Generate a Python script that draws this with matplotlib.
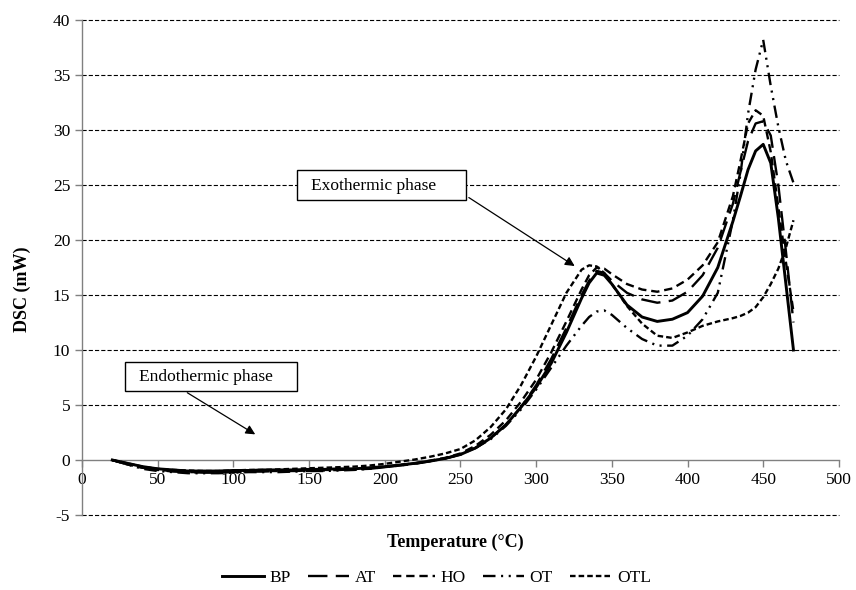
import matplotlib
matplotlib.use("Agg")
import matplotlib.pyplot as plt
from matplotlib.patches import Rectangle

# Temperature grid (°C)
temps = [20, 30, 40, 50, 60, 70, 80, 90, 100, 110, 120, 130, 140, 150, 160, 170,
         180, 190, 200, 210, 220, 230, 240, 250, 260, 270, 280, 290, 300, 310,
         320, 330, 335, 340, 345, 350, 360, 370, 380, 390, 400, 410, 420, 430,
         435, 440, 445, 450, 455, 460, 465, 470]

bp = [0, -0.3, -0.6, -0.8, -0.9, -1.0, -1.0, -1.0, -0.95, -0.95, -0.9, -0.9, -0.9, -0.85, -0.85, -0.8,
      -0.8, -0.7, -0.6, -0.45, -0.3, -0.1, 0.15, 0.5, 1.1, 2.0, 3.2, 4.8, 6.6, 8.8,
      11.6, 14.7, 16.1, 17.0, 16.8, 16.0, 14.1, 13.0, 12.6, 12.8, 13.4, 14.9, 17.5, 21.7,
      24.0, 26.4, 28.1, 28.7, 27.0, 22.0, 16.0, 10.0]

at = [0, -0.4, -0.7, -0.9, -1.05, -1.1, -1.15, -1.15, -1.1, -1.05, -1.05, -1.0, -1.0, -1.0, -0.95, -0.9,
      -0.85, -0.8, -0.65, -0.5, -0.35, -0.1, 0.15, 0.5, 1.1, 2.0, 3.2, 4.8, 6.8, 9.2,
      12.0, 15.0, 16.3, 17.2, 17.0, 16.3, 15.2, 14.6, 14.3, 14.5, 15.3, 16.8, 19.3, 23.3,
      26.2, 29.0, 30.6, 30.8, 29.5, 25.0, 19.0, 12.5]

ho = [0, -0.4, -0.7, -0.9, -1.0, -1.1, -1.1, -1.1, -1.05, -1.0, -1.0, -1.0, -1.0, -0.95, -0.9, -0.9,
      -0.85, -0.75, -0.6, -0.45, -0.3, -0.05, 0.2, 0.6, 1.3, 2.3, 3.6, 5.3, 7.3, 9.8,
      12.6, 15.5, 16.8, 17.5, 17.4, 16.9, 16.0, 15.5, 15.3, 15.6, 16.4, 17.7, 19.8, 24.0,
      27.2, 30.6, 31.8, 31.3, 28.0, 23.0, 18.0, 13.5]

ot = [0, -0.4, -0.8, -1.0, -1.1, -1.2, -1.2, -1.2, -1.15, -1.1, -1.1, -1.1, -1.05, -1.0, -1.0, -0.95,
      -0.9, -0.8, -0.65, -0.5, -0.3, -0.1, 0.15, 0.5, 1.1, 1.9, 3.1, 4.6, 6.4, 8.4,
      10.4, 12.2, 13.0, 13.5, 13.6, 13.2, 12.0, 11.0, 10.4, 10.4, 11.3, 12.8, 15.2, 21.8,
      26.0, 31.5, 35.5, 38.2, 34.0, 30.3, 27.2, 25.2]

otl = [0, -0.3, -0.6, -0.8, -0.9, -0.95, -1.0, -1.0, -0.95, -0.9, -0.9, -0.85, -0.8, -0.75, -0.7, -0.65,
       -0.6, -0.5, -0.35, -0.15, 0.05, 0.3, 0.6, 1.0, 1.8, 3.0, 4.6, 6.8, 9.4, 12.3,
       15.2, 17.3, 17.7, 17.6, 17.0, 16.0, 14.0, 12.4, 11.3, 11.1, 11.6, 12.2, 12.6, 12.9,
       13.1, 13.4, 13.9, 14.8, 16.0, 17.4, 19.3, 21.8]

series_names = ["BP", "AT", "HO", "OT", "OTL"]
x_ticks = list(range(0, 501, 50))
y_ticks = list(range(-5, 41, 5))

plt.rcParams["font.family"] = ["Liberation Serif", "DejaVu Serif"]
plt.rcParams["font.size"] = 12.5
plt.rcParams["lines.scale_dashes"] = False
plt.rcParams["axes.unicode_minus"] = False

fig = plt.figure(figsize=(8.56, 5.90), dpi=100)
ax = fig.add_axes([0.0958, 0.1271, 0.8842, 0.8389])

styles = [
    dict(ls="-", lw=2.1),
    dict(ls=(0, (14, 6)), lw=1.7),
    dict(ls=(0, (6, 3.5)), lw=1.7),
    dict(ls=(0, (9, 4, 1.5, 4, 1.5, 4)), lw=1.7),
    dict(ls=(0, (4, 2.2)), lw=1.7),
]
for name, vals, st in zip(series_names, [bp, at, ho, ot, otl], styles):
    ax.plot(temps, vals, color="black", label=name, zorder=3,
            solid_joinstyle="round", dash_joinstyle="round", **st)

# dashed horizontal gridlines (the zero line is the axis itself)
for y in y_ticks:
    if y != 0:
        ax.axhline(y, color="black", lw=0.8, ls=(0, (3, 1.5)), zorder=1, clip_on=False)

ax.set_xlim(0, 500)
ax.set_ylim(-5, 40)
ax.set_xticks(x_ticks)
ax.set_yticks(y_ticks)
ax.spines["top"].set_visible(False)
ax.spines["right"].set_visible(False)
ax.spines["bottom"].set_position(("data", 0))
for s in ("left", "bottom"):
    ax.spines[s].set_color("#808080")
    ax.spines[s].set_linewidth(1.0)
ax.tick_params(axis="both", color="#808080", length=5, width=1.0, labelsize=12.5)

# annotation boxes
ax.add_patch(Rectangle((142, 23.6), 112, 2.8, facecolor="white", edgecolor="black",
                       lw=1.0, zorder=4))
ax.text(192.5, 24.9, "Exothermic phase", ha="center", va="center", zorder=5)
ax.annotate("", xy=(327, 17.5), xytext=(254, 24.0),
            arrowprops=dict(arrowstyle="-|>", color="black", lw=0.9, mutation_scale=14),
            zorder=5)

ax.add_patch(Rectangle((28.4, 6.25), 113.6, 2.7, facecolor="white", edgecolor="black",
                       lw=1.0, zorder=4))
ax.text(82, 7.55, "Endothermic phase", ha="center", va="center", zorder=5)
ax.annotate("", xy=(116, 2.2), xytext=(68, 6.25),
            arrowprops=dict(arrowstyle="-|>", color="black", lw=0.9, mutation_scale=14),
            zorder=5)

fig.text(0.532, 0.08, "Temperature (°C)", ha="center", va="center",
         fontweight="bold", fontsize=13)
fig.text(0.026, 0.51, "DSC (mW)", ha="center", va="center", rotation=90,
         fontweight="bold", fontsize=13)

fig.legend(loc="center", bbox_to_anchor=(0.51, 0.02), ncol=5, frameon=False,
           handlelength=2.4, handletextpad=0.3, columnspacing=1.0, fontsize=12.5)

fig.savefig("out.png", dpi=100)
